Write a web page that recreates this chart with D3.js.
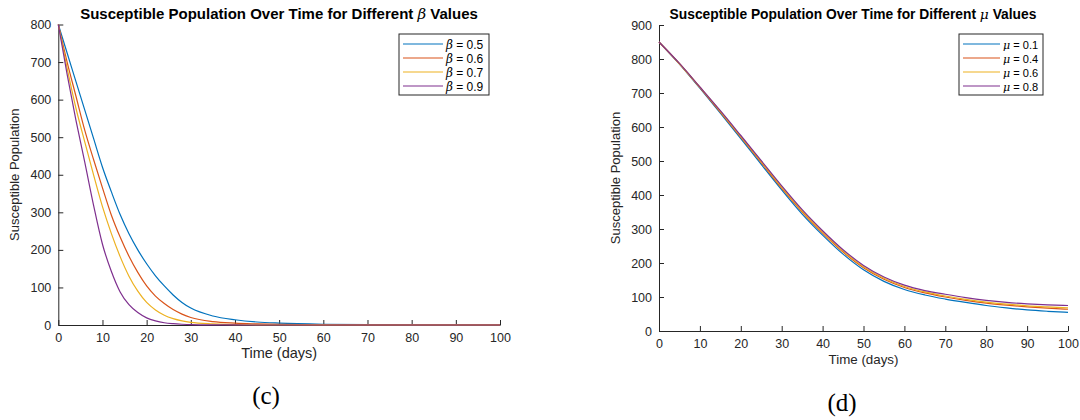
<!DOCTYPE html>
<html>
<head>
<meta charset="utf-8">
<script src="https://cdn.jsdelivr.net/npm/d3@7"></script>
<style>
  body { margin: 0; background: #fff; }
  svg { display: block; }
</style>
</head>
<body>
<svg id="chart" width="1080" height="420"></svg>
<script>
// panel (c): beta values
const betaDays = [0, 2, 4, 6, 8, 10, 12, 14, 16, 18, 20, 22, 24, 26, 28, 30, 35, 40, 45, 50, 60, 70, 80, 90, 100]
const betaLabels = ['0.5', '0.6', '0.7', '0.9']
const beta05 = [800, 724, 648, 572, 496, 420, 355, 294, 243, 200, 163, 131, 104, 80, 60, 45, 24, 14, 8, 5, 2, 1, 0.5, 0.3, 0.2]
const beta06 = [800, 700, 609, 518, 440, 365, 293, 234, 183, 140, 104, 77, 57, 41, 29, 20, 9, 5, 3, 1.5, 0.5, 0.2, 0.1, 0.1, 0.1]
const beta07 = [800, 683, 577, 487, 399, 315, 244, 182, 130, 90, 60, 40, 26, 17, 11, 7, 3, 1, 0.5, 0.3, 0.1, 0, 0, 0, 0]
const beta09 = [800, 667, 545, 433, 318, 215, 143, 88, 54, 33, 19, 11, 6, 3.5, 2, 1, 0.3, 0.1, 0, 0, 0, 0, 0, 0, 0]

// panel (d): mu values
const muDays = [0, 5, 10, 15, 20, 25, 30, 35, 40, 45, 50, 55, 60, 65, 70, 75, 80, 85, 90, 95, 100]
const muLabels = ['0.1', '0.4', '0.6', '0.8']
const mu01 = [850, 785, 714, 641, 566, 490, 415, 344, 282, 226, 180, 146, 122, 106, 94, 84, 75, 68, 62, 58, 55]
const mu04 = [850, 786, 716, 644, 570, 495, 420, 350, 288, 232, 186, 152, 128, 112, 100, 90, 82, 76, 71, 67, 64]
const mu06 = [850, 786, 717, 646, 572, 498, 423, 353, 291, 235, 189, 155, 131, 115, 103, 93, 85, 79, 74, 71, 68]
const mu08 = [850, 787, 718, 648, 575, 501, 427, 357, 295, 239, 193, 159, 135, 119, 108, 98, 90, 84, 80, 77, 75]

const xTicks = [0, 10, 20, 30, 40, 50, 60, 70, 80, 90, 100]
const colors = ['#0072BD', '#D95319', '#EDB120', '#7E2F8E']

const sans = '"Liberation Sans", Arial, Helvetica, sans-serif'
const serif = '"Liberation Serif", "Times New Roman", serif'
const greek = '"DejaVu Serif", "Liberation Serif", serif'

const svg = d3.select('#chart')

function drawPanel(p) {
	const x = d3.scaleLinear().domain([0, 100]).range([p.left, p.right])
	const y = d3.scaleLinear().domain([0, p.ymax]).range([p.bottom, p.top])
	const g = svg.append('g')
	const k = p.fs // the two panels were pasted at slightly different sizes

	// axes, MATLAB style: ticks point inward, no box
	const xAxis = d3.axisBottom(x).tickValues(xTicks).tickSizeInner(-5).tickSizeOuter(0).tickPadding(8)
	const yAxis = d3.axisLeft(y).ticks(p.ymax / 100).tickSizeInner(-5).tickSizeOuter(0).tickPadding(7)

	const gx = g.append('g').attr('transform', 'translate(0,' + p.bottom + ')').call(xAxis)
	const gy = g.append('g').attr('transform', 'translate(' + p.left + ',0)').call(yAxis)
	for (const a of [gx, gy]) {
		a.select('.domain').attr('stroke', '#262626').attr('stroke-width', 1)
		a.selectAll('.tick line').attr('stroke', '#262626')
		a.selectAll('.tick text')
			.style('font-family', sans).style('font-size', '12.5px').style('fill', '#262626')
	}

	const line = d3.line()
		.x(function (d) { return x(d[0]) })
		.y(function (d) { return y(d[1]) })
		.curve(d3.curveMonotoneX)

	p.series.forEach(function (s, i) {
		g.append('path')
			.datum(p.days.map(function (t, j) { return [t, s[j]] }))
			.attr('d', line)
			.attr('fill', 'none')
			.attr('stroke', colors[i])
			.attr('stroke-width', 1.2)
	})

	// title
	const title = g.append('text')
		.attr('x', p.titleX)
		.attr('y', 19)
		.attr('text-anchor', 'middle')
		.style('font-family', sans).style('font-size', (15 * k) + 'px').style('font-weight', 'bold').style('fill', '#000')
	title.append('tspan').text('Susceptible Population Over Time for Different ')
	title.append('tspan').text(p.sym)
		.style('font-family', greek).style('font-style', 'italic').style('font-weight', 'normal')
	title.append('tspan').text(' Values')

	// axis labels
	g.append('text')
		.attr('x', (p.left + p.right) / 2)
		.attr('y', p.bottom + 33)
		.attr('text-anchor', 'middle')
		.style('font-family', sans).style('font-size', (14.5 * k) + 'px').style('fill', '#262626')
		.text('Time (days)')
	g.append('text')
		.attr('transform', 'translate(' + (p.left - 39) + ',' + (p.top + p.bottom) / 2 + ') rotate(-90)')
		.attr('text-anchor', 'middle')
		.style('font-family', sans).style('font-size', '13px').style('fill', '#262626')
		.text('Susceptible Population')

	// legend
	const lg = g.append('g').attr('transform', 'translate(' + p.legX + ',' + p.legY + ')')
	lg.append('rect')
		.attr('width', p.legW).attr('height', 61)
		.attr('fill', '#fff').attr('stroke', '#262626').attr('stroke-width', 1)
	p.labels.forEach(function (lab, i) {
		const row = lg.append('g').attr('transform', 'translate(0,' + (10 + i * 14) + ')')
		row.append('line')
			.attr('x1', 4).attr('x2', 4 + p.legLine)
			.attr('stroke', colors[i]).attr('stroke-width', 1.2)
		const t = row.append('text').attr('x', 7 + p.legLine).attr('y', 4.5)
			.style('font-family', sans).style('font-size', (12 * k) + 'px').style('fill', '#000')
		t.append('tspan').text(p.sym)
			.style('font-family', greek).style('font-style', 'italic')
		t.append('tspan').text(' = ' + lab)
	})

	// caption
	svg.append('text')
		.attr('x', p.capX).attr('y', p.capY)
		.attr('text-anchor', 'middle')
		.style('font-family', serif).style('font-size', '25px').style('fill', '#000')
		.text(p.caption)
}

drawPanel({
	left: 58.3, right: 500, top: 24.5, bottom: 325, ymax: 800, fs: 1,
	days: betaDays, series: [beta05, beta06, beta07, beta09], labels: betaLabels,
	sym: 'β', titleX: 279, legX: 399, legY: 34, legW: 90, legLine: 40,
	caption: '(c)', capX: 266, capY: 404
})

drawPanel({
	left: 659, right: 1068, top: 25, bottom: 331, ymax: 900, fs: 0.92,
	days: muDays, series: [mu01, mu04, mu06, mu08], labels: muLabels,
	sym: 'μ', titleX: 853, legX: 959, legY: 34, legW: 84, legLine: 37,
	caption: '(d)', capX: 842, capY: 411
})
</script>
</body>
</html>
